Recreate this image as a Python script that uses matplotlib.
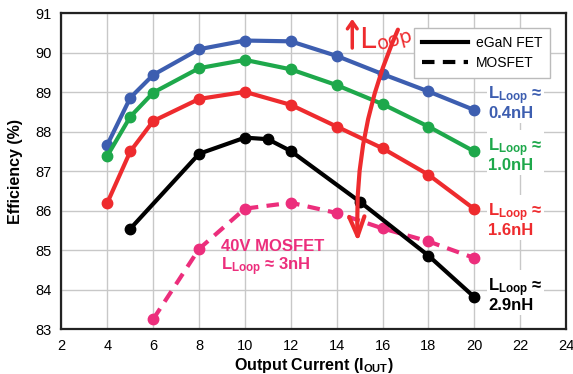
import numpy as np
import matplotlib
matplotlib.use("Agg")
import matplotlib.pyplot as plt
from matplotlib.lines import Line2D

# -------------------------------------------------------------------------
# DATA  (efficiency in %, vs output current in A)
# -------------------------------------------------------------------------
x_egan = [4, 5, 6, 8, 10, 12, 14, 16, 18, 20]
eff_04nH = [87.67, 88.86, 89.44, 90.09, 90.31, 90.29, 89.92, 89.46, 89.02, 88.55]
eff_10nH = [87.39, 88.38, 88.99, 89.61, 89.82, 89.58, 89.18, 88.70, 88.13, 87.50]
eff_16nH = [86.20, 87.50, 88.27, 88.83, 89.01, 88.68, 88.13, 87.58, 86.91, 86.04]

x_29nH = [5, 8, 10, 11, 12, 15, 18, 20]
eff_29nH = [85.54, 87.44, 87.85, 87.81, 87.51, 86.23, 84.86, 83.81]

x_mos = [6, 8, 10, 12, 14, 16, 18, 20]
eff_mos = [83.25, 85.03, 86.05, 86.20, 85.94, 85.55, 85.22, 84.80]

blue = "#3d5eb0"
green = "#1ea84b"
red = "#ee2b2e"
magenta = "#ec2e7c"

plt.rcParams["font.family"] = ["Liberation Sans", "DejaVu Sans"]
plt.rcParams["mathtext.fontset"] = "custom"
plt.rcParams["mathtext.rm"] = "Liberation Sans:bold"
plt.rcParams["mathtext.it"] = "Liberation Sans:bold"
plt.rcParams["mathtext.bf"] = "Liberation Sans:bold"

fig = plt.figure(figsize=(5.73, 3.74), dpi=100)
ax = fig.add_axes([0.1073, 0.1203, 0.8805, 0.8441])

lw = 3.0
ms = 7.5
ax.plot(x_egan, eff_04nH, "-o", color=blue, lw=lw, ms=ms, zorder=4)
ax.plot(x_egan, eff_10nH, "-o", color=green, lw=lw, ms=ms, zorder=4)
ax.plot(x_egan, eff_16nH, "-o", color=red, lw=lw, ms=ms, zorder=4)
ax.plot(x_29nH, eff_29nH, "-o", color="black", lw=lw, ms=ms, zorder=4)
ax.plot(x_mos, eff_mos, "o", color=magenta, ms=ms, zorder=3)
ax.plot(x_mos, eff_mos, color=magenta, lw=lw, dashes=(3, 2), zorder=3)

ax.set_xlim(2, 24)
ax.set_ylim(83, 91)
ax.set_xticks(np.arange(2, 25, 2))
ax.set_yticks(np.arange(83, 92, 1))
ax.grid(True, color="#c8c8c8", lw=1.0)
ax.set_axisbelow(True)
ax.tick_params(length=0, labelsize=10.5, pad=7)
for s in ax.spines.values():
    s.set_linewidth(1.6)
    s.set_color("#222222")

ax.set_xlabel("Output Current (I$_{OUT}$)", fontsize=11.5, fontweight="bold", labelpad=2)
ax.set_ylabel("Efficiency (%)", fontsize=11.5, fontweight="bold", labelpad=9)

# curve labels
box = dict(facecolor="white", edgecolor="none", pad=1.0)
lab_kw = dict(fontsize=12, fontweight="bold", ha="left", va="center",
              linespacing=0.95, bbox=box, zorder=6)
ax.text(20.6, 88.73, "$L_{Loop}$ \u2248\n0.4nH", color=blue, **lab_kw)
ax.text(20.6, 87.41, "$L_{Loop}$ \u2248\n1.0nH", color=green, **lab_kw)
ax.text(20.6, 85.77, "$L_{Loop}$ \u2248\n1.6nH", color=red, **lab_kw)
ax.text(20.6, 83.87, "$L_{Loop}$ \u2248\n2.9nH", color="black", **lab_kw)
ax.text(8.95, 84.78, "40V MOSFET\n$L_{Loop}$ \u2248 3nH", color=magenta,
        fontsize=12, fontweight="bold", ha="left", va="center",
        linespacing=1.1, zorder=6)

# legend
handles = [Line2D([], [], color="black", lw=lw),
           Line2D([], [], color="black", lw=lw, dashes=(3, 2))]
leg = ax.legend(handles, ["eGaN FET", "MOSFET"], loc="upper right",
                fontsize=10, handlelength=3.3, fancybox=False,
                framealpha=1, edgecolor="#bbbbbb", borderpad=0.55,
                labelspacing=0.45, handletextpad=0.6,
                bbox_to_anchor=(0.982, 0.975))
leg.set_zorder(7)

# hand-drawn "increasing L_Loop" arrow
ax.annotate("", xy=(14.93, 85.14), xytext=(16.72, 90.65),
            arrowprops=dict(arrowstyle="->,head_length=1.4,head_width=0.55",
                            color=red, lw=3,
                            connectionstyle="arc3,rad=0.12"), zorder=8)
ax.annotate("", xy=(14.68, 90.93), xytext=(14.68, 90.05),
            arrowprops=dict(arrowstyle="->,head_length=0.5,head_width=0.35",
                            color=red, lw=2.5), zorder=8)
ax.text(15.0, 89.98, "L", color=red, fontsize=21, family="DejaVu Sans",
        ha="left", va="bottom", zorder=8)
ax.text(15.65, 89.98, "oop", color=red, fontsize=14, family="DejaVu Sans",
        ha="left", va="bottom", rotation=15, zorder=8)

fig.savefig("out.png", dpi=100)
